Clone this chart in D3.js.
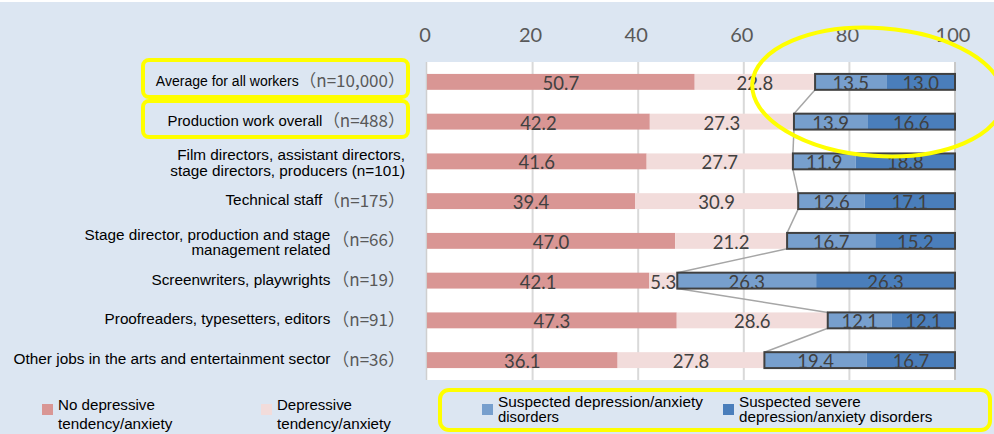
<!DOCTYPE html>
<html><head><meta charset="utf-8">
<script src="https://cdn.jsdelivr.net/npm/d3@7"></script>
<style>body{margin:0;background:#fff;overflow:hidden}</style>
</head><body><svg id="c" width="994" height="434"></svg>
<script>
// ---- data ----
const categoryLines = [
  ["Average for all workers"],
  ["Production work overall"],
  ["Film directors, assistant directors,", "stage directors, producers (n=101)"],
  ["Technical staff"],
  ["Stage director, production and stage", "management related"],
  ["Screenwriters, playwrights"],
  ["Proofreaders, typesetters, editors"],
  ["Other jobs in the arts and entertainment sector"]
];
const sampleSizes = ["n=10,000", "n=488", "", "n=175", "n=66", "n=19", "n=91", "n=36"];
const noDepressive = [50.7, 42.2, 41.6, 39.4, 47.0, 42.1, 47.3, 36.1];
const depressive   = [22.8, 27.3, 27.7, 30.9, 21.2, 5.3, 28.6, 27.8];
const suspected    = [13.5, 13.9, 11.9, 12.6, 16.7, 26.3, 12.1, 19.4];
const severe       = [13.0, 16.6, 18.8, 17.1, 15.2, 26.3, 12.1, 16.7];
const seriesNames = [
  ["No depressive", "tendency/anxiety"],
  ["Depressive", "tendency/anxiety"],
  ["Suspected depression/anxiety", "disorders"],
  ["Suspected severe", "depression/anxiety disorders"]
];
const xTicks = [0, 20, 40, 60, 80, 100];

// ---- styles / layout ----
const seriesColors = ["#d99694", "#f2dcdb", "#779fcd", "#4a7ebb"];
const labelWidths = [[137], [155], [228, 235], [97], [246, 139], [179], [226], [317]];
const columnLabel = [false, false, false, false, true, true, true, true]; // n-part in its own column
const legendX = [42, 261, 482, 723];
const legendWidths = [[97, 114.5], [75, 114], [205, 61], [122, 193.5]];
const narrow = "'Liberation Sans Narrow','Arial Narrow','Liberation Sans',sans-serif";
const cjk = "'Noto Sans CJK JP','Noto Sans CJK SC',sans-serif";
const numFont = "Lato, 'Open Sans', sans-serif";

const svg = d3.select("#c");
svg.append("rect").attr("x", 0).attr("y", 2).attr("width", 994).attr("height", 432).attr("fill", "#dce6f2");

// font size chosen so the natural width matches the reference width
function fitText(sel, target, base) {
  sel.attr("font-size", base);
  const w = sel.node().getComputedTextLength();
  const fs = Math.max(14, Math.min(19.5, base * target / w));
  sel.attr("font-size", fs);
  return sel;
}

const x = d3.scaleLinear().domain([0, 100]).range([427, 955]);
const y = d3.scaleBand().domain(d3.range(categoryLines.length)).range([62, 380]).paddingInner(0.6).paddingOuter(0.3);
const bw = y.bandwidth();

// plot area
svg.append("rect").attr("x", 426).attr("y", 62).attr("width", 530).attr("height", 318).attr("fill", "#fff");
svg.append("g").selectAll("line").data(xTicks.filter(d => d > 0)).join("line")
  .attr("x1", d => x(d)).attr("x2", d => x(d)).attr("y1", 62).attr("y2", 380)
  .attr("stroke", d => d === 100 ? "#c8c8c8" : "#d9d9d9").attr("stroke-width", 2);
svg.append("line").attr("x1", 426.5).attr("x2", 426.5).attr("y1", 62).attr("y2", 380)
  .attr("stroke", "#cfcfcf").attr("stroke-width", 1.5);

// axis ticks
const ax = svg.append("g").attr("transform", "translate(-2.5,42)")
  .call(d3.axisTop(x).tickValues(xTicks).tickSize(0).tickPadding(0));
ax.select(".domain").remove();
ax.selectAll("text").attr("font-family", numFont).attr("font-size", 20).attr("fill", "#595959");

// stacked data
const rows = noDepressive.map((v, i) => {
  const vals = [v, depressive[i], suspected[i], severe[i]];
  let acc = 0;
  return vals.map((val, k) => { const s = acc; acc += val; return {i, k, start: s, val}; });
});

const barG = svg.append("g");
rows.forEach(segs => {
  barG.selectAll(null).data(segs).join("rect")
    .attr("x", d => x(d.start)).attr("y", d => y(d.i))
    .attr("width", d => x(d.start + d.val) - x(d.start)).attr("height", bw)
    .attr("fill", d => seriesColors[d.k]);
});

// connectors between blue boxes
const blueStart = rows.map(s => s[2].start);
svg.append("g").selectAll("line").data(d3.range(blueStart.length - 1)).join("line")
  .attr("x1", i => x(blueStart[i])).attr("y1", i => y(i) + bw)
  .attr("x2", i => x(blueStart[i + 1])).attr("y2", i => y(i + 1))
  .attr("stroke", "#a6a6a6").attr("stroke-width", 1.5);

// outline of blue boxes
svg.append("g").selectAll("rect").data(rows).join("rect")
  .attr("x", s => x(s[2].start)).attr("y", s => y(s[0].i))
  .attr("width", s => x(100) - x(s[2].start)).attr("height", bw)
  .attr("fill", "none").attr("stroke", "#404040").attr("stroke-width", 2);

// value labels
const fmt = d3.format(".1f");
const labG = svg.append("g");
rows.forEach(segs => {
  labG.selectAll(null).data(segs).join("text")
    .attr("x", d => x(d.start + d.val / 2)).attr("y", d => y(d.i) + bw / 2 + 1)
    .attr("text-anchor", "middle").attr("dominant-baseline", "central")
    .attr("font-family", numFont).attr("font-size", 18.5).attr("fill", "#404040")
    .text(d => fmt(d.val));
});

// category labels
const catG = svg.append("g");
categoryLines.forEach((lines, i) => {
  const cy = y(i) + bw / 2;
  const n = sampleSizes[i];
  let endX = 405;
  if (n) {
    const nt = catG.append("text").attr("x", 405).attr("y", cy + 5.5).attr("text-anchor", "end")
      .attr("font-family", cjk).attr("font-size", 17).attr("fill", "#595959")
      .text("（" + n + "）");
    const nLen = nt.node().getComputedTextLength();
    endX = columnLabel[i] ? Math.min(332, 405 - nLen - 2) : 405 - nLen - 0.5;
  }
  lines.forEach((ln, j) => {
    const base = lines.length === 1 ? cy + 4 : cy - 1 + j * 15.5;
    const t = catG.append("text").attr("x", endX).attr("y", base).attr("text-anchor", "end")
      .attr("font-family", narrow).attr("fill", "#000").text(ln);
    fitText(t, labelWidths[i][j], 17.5);
  });
});

// legend
seriesNames.forEach((nm, k) => {
  const g = svg.append("g");
  g.append("rect").attr("x", legendX[k]).attr("y", 404).attr("width", 11).attr("height", 11).attr("fill", seriesColors[k]);
  const b1 = k < 2 ? 410 : 406.5, step = k < 2 ? 18.5 : 15.5;
  nm.forEach((ln, j) => {
    const t = g.append("text").attr("x", legendX[k] + 16).attr("y", b1 + j * step)
      .attr("font-family", narrow).attr("fill", "#000").text(ln);
    fitText(t, legendWidths[k][j], 17);
  });
});

// yellow highlight annotations
const hl = svg.append("g").attr("fill", "none").attr("stroke", "#ffff00").attr("stroke-width", 4);
hl.append("rect").attr("x", 143).attr("y", 60).attr("width", 265).attr("height", 37).attr("rx", 6);
hl.append("rect").attr("x", 143).attr("y", 101).attr("width", 265).attr("height", 36).attr("rx", 6);
hl.append("ellipse").attr("cx", 878).attr("cy", 92).attr("rx", 126).attr("ry", 64)
  .attr("transform", "rotate(4 878 92)");
hl.append("rect").attr("x", 440).attr("y", 390).attr("width", 550).attr("height", 40).attr("rx", 9);
</script>
</body></html>
